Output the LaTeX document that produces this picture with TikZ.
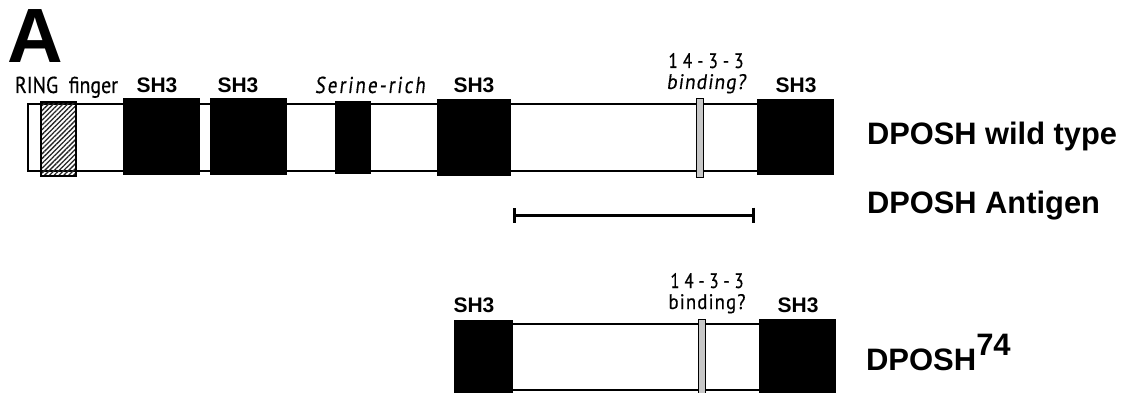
\documentclass[tikz,border=0pt]{standalone}
\usepackage{fontspec}
\setmainfont{Liberation Sans}
\newfontfamily\hum[FakeBold=0.5]{PT Sans}
\newfontfamily\humsl[FakeSlant=0.15,FakeBold=0.5]{PT Sans}
\usetikzlibrary{patterns.meta,arrows.meta}
\begin{document}
\begin{tikzpicture}[x=1pt,y=-1pt,
  dom/.style={draw=black, line width=1.3pt, inner sep=0pt, outer sep=0pt, anchor=north west},
  sh/.style={dom, fill=black},
  bar/.style={dom, fill=white},
  hatch/.style={dom, pattern={Lines[angle=45,distance=3.4pt,line width=1.3pt]}, pattern color=black!85},
  motif/.style={dom, line width=1pt, fill=black!22},
  lbl/.style={inner sep=0pt, outer sep=0pt, anchor=base},
  shlbl/.style={lbl, font=\bfseries\fontsize{21}{21}\selectfont},
  humlbl/.style={lbl, font=\hum\fontsize{21}{21}\selectfont},
  biglbl/.style={lbl, anchor=base west, font=\bfseries\fontsize{31}{31}\selectfont},
  antigen/.style={line width=3pt, {Bar[width=15pt,line width=3pt]}-{Bar[width=15pt,line width=3pt]}}
]
\useasboundingbox (0,0) rectangle (1124,393);
% panel letter
\node[lbl, anchor=base west, font=\bfseries\fontsize{77}{77}\selectfont] (A) at (8,63) {A};

% ---------- wild type ----------
\node[bar, minimum width=730pt, minimum height=67pt] (wt) at (28,104) {};
\node[hatch, minimum width=35pt, minimum height=74pt] (ring) at (41,102) {};
\node[sh, minimum width=75pt, minimum height=75pt] (sh1) at (124,99) {};
\node[sh, minimum width=75pt, minimum height=75pt] (sh2) at (211,99) {};
\node[sh, minimum width=34pt, minimum height=71pt] (ser) at (336,102) {};
\node[sh, minimum width=72pt, minimum height=75pt] (sh3) at (438,100) {};
\node[motif, minimum width=7pt, minimum height=78pt] (b1) at (696,99) {};
\node[sh, minimum width=75pt, minimum height=74pt] (sh4) at (758,100) {};

\node[lbl, anchor=base west, font=\hum\fontsize{23}{23}\selectfont] (ringlbl) at (15,93) {\resizebox{103pt}{\height}{RING\ \ finger}};
\node[shlbl] (l1) at (157,93) {SH3};
\node[shlbl] (l2) at (238,93) {SH3};
\node[lbl, anchor=base west, font=\humsl\fontsize{23}{23}\selectfont] (serlbl) at (315,93) {\resizebox{110pt}{\height}{\addfontfeatures{LetterSpace=12}Serine-rich}};
\node[shlbl] (l3) at (474,93) {SH3};
\node[humlbl] (t1) at (706,68) {\resizebox{75pt}{\height}{\addfontfeatures{LetterSpace=30}14-3-3}};
\node[lbl, font=\humsl\fontsize{21}{21}\selectfont] (t2) at (706,89) {\resizebox{79pt}{\height}{\addfontfeatures{LetterSpace=6}binding?}};
\node[shlbl] (l4) at (796,93) {SH3};
\node[biglbl] (wtlbl) at (867,145) {\resizebox{250pt}{\height}{DPOSH wild type}};

% ---------- antigen ----------
\coordinate (ag1) at (513,215);
\coordinate (ag2) at (755,215);
\draw[antigen] (ag1) -- (ag2);
\node[biglbl] (aglbl) at (867,213) {\resizebox{233pt}{\height}{DPOSH Antigen}};

% ---------- DPOSH74 ----------
\node[bar, minimum width=248pt, minimum height=66pt] (d74) at (512,324) {};
\node[sh, minimum width=57pt, minimum height=72pt] (sh5) at (455,321) {};
\node[motif, minimum width=7pt, minimum height=74pt] (b2) at (698,319) {};
\node[sh, minimum width=75pt, minimum height=73pt] (sh6) at (760,320) {};
\node[shlbl] (l5) at (474,312) {SH3};
\node[shlbl] (l6) at (798,312) {SH3};
\node[humlbl] (t3) at (707,288) {\resizebox{73pt}{\height}{\addfontfeatures{LetterSpace=30}14-3-3}};
\node[humlbl] (t4) at (707,309) {\resizebox{77pt}{\height}{\addfontfeatures{LetterSpace=6}binding?}};
\node[biglbl] (d74lbl) at (866,370) {DPOSH\raisebox{15pt}{74}};
\end{tikzpicture}
\end{document}
